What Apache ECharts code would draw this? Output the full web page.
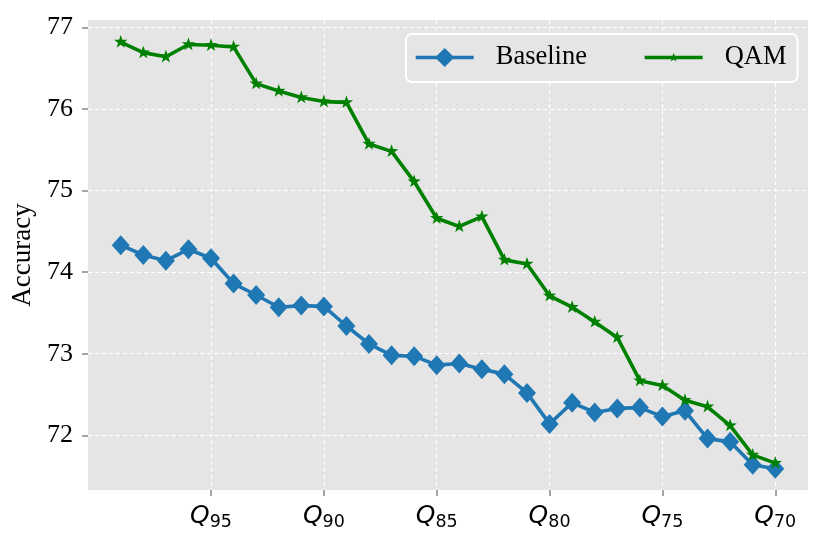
<!DOCTYPE html>
<html><head><meta charset="utf-8">
<script src="https://cdn.jsdelivr.net/npm/echarts@6/dist/echarts.min.js"></script>
<style>html,body{margin:0;padding:0;background:#fff}#c{width:830px;height:545px}</style>
</head><body><div id="c"></div>
<script>
const qualities = [99,98,97,96,95,94,93,92,91,90,89,88,87,86,85,84,83,82,81,80,79,78,77,76,75,74,73,72,71,70];
const baseline = [74.33,74.21,74.14,74.28,74.17,73.86,73.72,73.57,73.59,73.58,73.34,73.12,72.98,72.97,72.86,72.88,72.81,72.75,72.52,72.14,72.40,72.28,72.33,72.34,72.23,72.30,71.96,71.92,71.64,71.59];
const qam = [76.82,76.69,76.64,76.79,76.78,76.76,76.31,76.22,76.14,76.09,76.08,75.57,75.48,75.11,74.66,74.56,74.68,74.15,74.10,73.71,73.57,73.39,73.20,72.67,72.61,72.43,72.35,72.12,71.76,71.66];
const xTickQualities = [95,90,85,80,75,70];
const yTicks = [72,73,74,75,76,77];

const idx = q => qualities.indexOf(q);
const xTickIdx = xTickQualities.map(idx);
// five-pointed star inside a padded square box (the padding keeps the legend star small)
const star = 'path://M-20,-20 M20,20 M0,-10 L2.35,-3.24 L9.51,-3.09 L3.8,1.24 L5.88,8.09 L0,4 L-5.88,8.09 L-3.8,1.24 L-9.51,-3.09 L-2.35,-3.24 Z';

const chart = echarts.init(document.getElementById('c'));
chart.setOption({
  animation: false,
  backgroundColor: '#fff',
  grid: {left: 88, right: 22, top: 20, bottom: 55, show: true, backgroundColor: '#E5E5E5', borderWidth: 0},
  legend: {
    left: 406, top: 34,
    padding: [10, 11, 11, 8],
    backgroundColor: '#E5E5E5', borderColor: '#fff', borderWidth: 2, borderRadius: 6,
    itemWidth: 58, itemHeight: 24, itemGap: 56,
    lineStyle: {width: 3.4},
    textStyle: {fontFamily: 'Liberation Serif', fontSize: 26.5, color: '#000', padding: [0,0,0,17]},
    data: ['Baseline', 'QAM']
  },
  xAxis: {
    type: 'value', min: -1.45, max: qualities.length - 1 + 1.45,
    axisLine: {show: false, onZero: false},
    axisTick: {show: true, customValues: xTickIdx, length: 6, lineStyle: {color: '#888', width: 1.5}},
    axisLabel: {
      customValues: xTickIdx, margin: 11,
      formatter: v => '{q|Q}{s|' + qualities[Math.round(v)] + '}',
      rich: {
        q: {fontFamily: 'DejaVu Sans', fontStyle: 'italic', fontSize: 25, color: '#000'},
        s: {fontFamily: 'DejaVu Sans', fontSize: 17.5, color: '#000', padding: [12,0,0,0]}
      }
    },
    splitLine: {show: true, lineStyle: {color: '#fff', type: [4,3], width: 1}}
  },
  yAxis: {
    type: 'value', min: 71.33, max: 77.09,
    name: 'Accuracy', nameLocation: 'middle', nameGap: 51, nameRotate: 90,
    nameTextStyle: {fontFamily: 'Liberation Serif', fontSize: 27, color: '#000'},
    axisLine: {show: false, onZero: false},
    axisTick: {show: true, customValues: yTicks, length: 6, lineStyle: {color: '#888', width: 1.5}},
    axisLabel: {customValues: yTicks, margin: 15, fontFamily: 'Liberation Serif', fontSize: 26, color: '#000', formatter: v => String(v)},
    splitLine: {show: true, lineStyle: {color: '#fff', type: [4,3], width: 1}}
  },
  series: [
    {name: 'Baseline', type: 'line', data: baseline.map((v,i)=>[i,v]), symbol: 'diamond', symbolSize: [18,20],
     itemStyle: {color: '#1f77b4'}, lineStyle: {color: '#1f77b4', width: 3.6}, z: 3},
    {name: 'QAM', type: 'line', data: qam.map((v,i)=>[i,v]), symbol: star, symbolSize: 28,
     itemStyle: {color: '#008000'}, lineStyle: {color: '#008000', width: 3.6}, z: 4}
  ]
});
</script></body></html>
